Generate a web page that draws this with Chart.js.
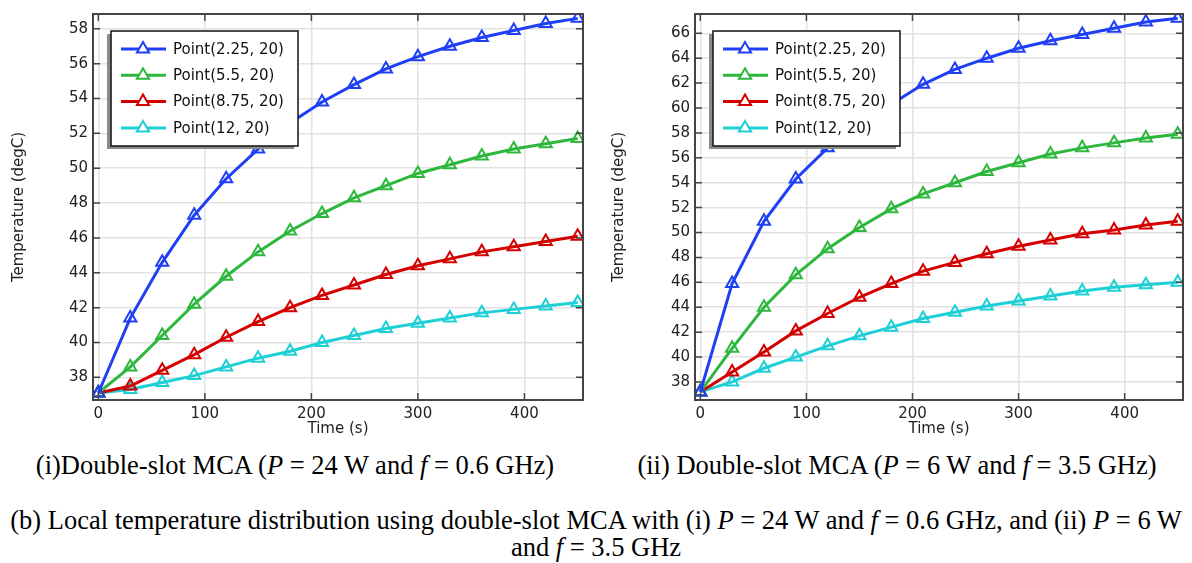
<!DOCTYPE html>
<html>
<head>
<meta charset="utf-8">
<script src="https://cdn.jsdelivr.net/npm/chart.js@4"></script>
<style>
  body { margin: 0; background: #fff; width: 1192px; height: 563px; position: relative; overflow: hidden;
         font-family: "Liberation Serif", "Times New Roman", serif; }
  canvas { position: absolute; top: 0; }
  #c1 { left: 0; }
  #c2 { left: 600px; }
  .cap { position: absolute; font-size: 26.5px; line-height: 27px; color: #000; white-space: nowrap;
         transform: translateX(-50%); }
</style>
</head>
<body>
<canvas id="c1" width="598" height="440"></canvas>
<canvas id="c2" width="592" height="440"></canvas>

<div class="cap" style="left:295px; top:452px;">(i)Double-slot MCA (<i>P</i> = 24 W and <i>f</i> = 0.6 GHz)</div>
<div class="cap" style="left:897px; top:452px;">(ii) Double-slot MCA (<i>P</i> = 6 W and <i>f</i> = 3.5 GHz)</div>
<div class="cap" style="left:596px; top:507px;">(b) Local temperature distribution using double-slot MCA with (i) <i>P</i> = 24 W and <i>f</i> = 0.6 GHz, and (ii) <i>P</i> = 6 W</div>
<div class="cap" style="left:596px; top:534px;">and <i>f</i> = 3.5 GHz</div>

<script>
// time axis (s)
const times = [0, 30, 60, 90, 120, 150, 180, 210, 240, 270, 300, 330, 360, 390, 420, 450];
const seriesNames = ['Point(2.25, 20)', 'Point(5.5, 20)', 'Point(8.75, 20)', 'Point(12, 20)'];
const seriesColors = ['#1f3ff5', '#2db83d', '#d40000', '#1ecfd6'];

// (i) P = 24 W, f = 0.6 GHz
const blue1  = [37.1, 41.4, 44.6, 47.3, 49.4, 51.1, 52.6, 53.8, 54.8, 55.7, 56.4, 57.0, 57.5, 57.9, 58.3, 58.6];
const green1 = [37.1, 38.6, 40.4, 42.2, 43.8, 45.2, 46.4, 47.4, 48.3, 49.0, 49.7, 50.2, 50.7, 51.1, 51.4, 51.7];
const red1   = [37.1, 37.5, 38.4, 39.3, 40.3, 41.2, 42.0, 42.7, 43.3, 43.9, 44.4, 44.8, 45.2, 45.5, 45.8, 46.1];
const cyan1  = [37.1, 37.3, 37.7, 38.1, 38.6, 39.1, 39.5, 40.0, 40.4, 40.8, 41.1, 41.4, 41.7, 41.9, 42.1, 42.3];

// (ii) P = 6 W, f = 3.5 GHz
const blue2  = [37.2, 45.9, 50.9, 54.3, 56.8, 58.6, 60.3, 61.9, 63.1, 64.0, 64.8, 65.4, 65.9, 66.4, 66.9, 67.2];
const green2 = [37.2, 40.7, 44.0, 46.6, 48.7, 50.4, 51.9, 53.1, 54.0, 54.9, 55.6, 56.3, 56.8, 57.2, 57.6, 57.9];
const red2   = [37.2, 38.8, 40.4, 42.1, 43.5, 44.8, 45.9, 46.9, 47.6, 48.3, 48.9, 49.4, 49.9, 50.2, 50.6, 50.9];
const cyan2  = [37.2, 38.0, 39.1, 40.0, 40.9, 41.7, 42.4, 43.1, 43.6, 44.1, 44.5, 44.9, 45.3, 45.6, 45.8, 46.0];

Chart.defaults.font.family = '"DejaVu Sans", sans-serif';
Chart.defaults.font.size = 15;
Chart.defaults.color = '#222';

// frame + inward ticks on all four sides
const frameTicks = {
  id: 'frameTicks',
  afterDatasetsDraw(chart) {
    const ctx = chart.ctx, a = chart.chartArea;
    const xs = chart.scales.x, ys = chart.scales.y;
    ctx.save();
    ctx.strokeStyle = '#444';
    ctx.lineWidth = 1.5;
    ctx.beginPath();
    xs.ticks.forEach(t => {
      const px = xs.getPixelForValue(t.value);
      ctx.moveTo(px, a.bottom); ctx.lineTo(px, a.bottom - 7);
      ctx.moveTo(px, a.top); ctx.lineTo(px, a.top + 7);
    });
    ys.ticks.forEach(t => {
      const py = ys.getPixelForValue(t.value);
      ctx.moveTo(a.left, py); ctx.lineTo(a.left + 7, py);
      ctx.moveTo(a.right, py); ctx.lineTo(a.right - 7, py);
    });
    ctx.stroke();
    ctx.lineWidth = 2;
    ctx.strokeRect(a.left, a.top, a.right - a.left, a.bottom - a.top);
    ctx.restore();
  }
};

// legend box inside the plot, upper left, with a drop shadow
const insideLegend = {
  id: 'insideLegend',
  afterDraw(chart) {
    const ctx = chart.ctx, a = chart.chartArea;
    const x = a.left + 18, y = a.top + 17, w = 187, h = 115;
    ctx.save();
    ctx.fillStyle = '#8c8c8c';
    ctx.fillRect(x - 4, y + 3, w, h);
    ctx.fillStyle = '#fff';
    ctx.fillRect(x, y, w, h);
    ctx.strokeStyle = '#111';
    ctx.lineWidth = 1.5;
    ctx.strokeRect(x, y, w, h);
    chart.data.datasets.forEach((ds, i) => {
      const cy = y + 18 + i * 26.3;
      ctx.strokeStyle = ds.borderColor;
      ctx.lineWidth = 3;
      ctx.beginPath();
      ctx.moveTo(x + 10, cy);
      ctx.lineTo(x + 55, cy);
      ctx.stroke();
      ctx.lineWidth = 2;
      ctx.fillStyle = '#fff';
      Chart.helpers.drawPoint(ctx, { pointStyle: 'triangle', radius: 7, borderWidth: 2, rotation: 0 }, x + 32, cy);
      ctx.fillStyle = '#111';
      ctx.font = '15px "DejaVu Sans"';
      ctx.textBaseline = 'middle';
      ctx.fillText(ds.label, x + 62, cy + 1);
    });
    ctx.restore();
  }
};

function makeChart(id, values, yMin, yMax, axisW, padRight) {
  return new Chart(document.getElementById(id), {
    type: 'line',
    data: {
      datasets: values.map((vals, i) => ({
        label: seriesNames[i],
        data: times.map((t, j) => ({ x: t, y: vals[j] })),
        borderColor: seriesColors[i],
        backgroundColor: 'rgba(0,0,0,0)',
        borderWidth: 3,
        tension: 0,
        pointStyle: 'triangle',
        pointRadius: 7,
        pointBorderWidth: 2,
        pointBackgroundColor: 'rgba(0,0,0,0)',
        clip: 0
      }))
    },
    options: {
      responsive: false,
      animation: false,
      layout: { padding: { top: 12, right: padRight, bottom: 0, left: 0 } },
      plugins: { legend: { display: false }, tooltip: { enabled: false } },
      scales: {
        x: {
          type: 'linear',
          min: -5, max: 455,
          afterFit: s => { s.height = 40; },
          ticks: { stepSize: 100, includeBounds: false, padding: 5, maxRotation: 0 },
          grid: { color: '#e2e2e2', lineWidth: 1.5, drawTicks: false },
          border: { display: false },
          title: { display: true, text: 'Time (s)', padding: { top: 0, bottom: 2 } }
        },
        y: {
          min: yMin, max: yMax,
          afterFit: s => { s.width = axisW; },
          ticks: { stepSize: 2, includeBounds: false, padding: 5 },
          grid: { color: '#e2e2e2', lineWidth: 1.5, drawTicks: false },
          border: { display: false },
          title: { display: true, text: 'Temperature (degC)', padding: { top: 10, bottom: 0 } }
        }
      }
    },
    plugins: [frameTicks, insideLegend]
  });
}

makeChart('c1', [blue1, green1, red1, cyan1], 36.7, 58.85, 93, 15);
makeChart('c2', [blue2, green2, red2, cyan2], 36.55, 67.55, 95, 7);
</script>
</body>
</html>
